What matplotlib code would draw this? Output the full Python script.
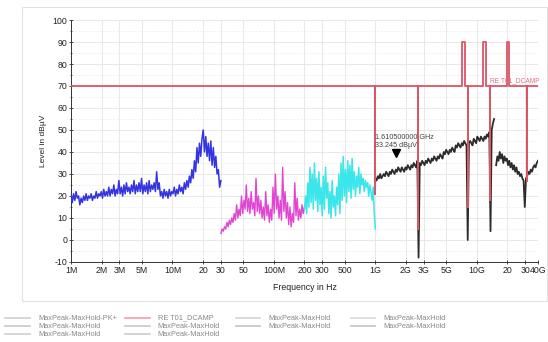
import matplotlib
matplotlib.use('Agg')
import matplotlib.pyplot as plt
import matplotlib.transforms as mtransforms
from matplotlib.lines import Line2D
from matplotlib.patches import Rectangle
import numpy as np

plt.rcParams['font.family'] = ['Liberation Sans', 'DejaVu Sans']
plt.rcParams['axes.unicode_minus'] = False

# ── Data ─────────────────────────────────────────────────────────────────────
# sweep 1: 1 MHz - 30 MHz (blue)
blue_f = np.geomspace(1e6, 30e6, 120)
blue_db = [20, 17, 21, 18, 22, 19, 20, 16, 19, 17, 20, 18, 21, 18, 20, 19, 21, 18, 20, 19, 22, 19, 21, 20,
           22, 19, 23, 20, 22, 20, 24, 20, 23, 21, 25, 20, 23, 21,
           27, 21, 24, 20, 25, 21, 26, 22, 24, 21, 25, 22, 27, 21, 25, 22, 26, 22,
           28, 21, 25, 22, 26, 21, 27, 22, 25, 23, 26, 22,
           31, 23, 26, 20, 22, 19, 23, 20, 22, 19, 23, 20, 22,
           21, 24, 20, 23, 21, 25, 22, 24, 21, 26, 23, 27, 24, 29, 26,
           32, 28, 36, 31, 42, 35, 44, 38, 46,
           50, 40, 47, 38, 44, 36, 45, 34, 42, 33, 38, 30, 32, 24, 27]

# sweep 2: 30 MHz - 200 MHz (magenta)
mag_f = np.geomspace(30e6, 200e6, 70)
mag_db = [3, 5, 4, 6, 5, 8, 6, 9, 7, 10, 8,
          12, 9, 16, 10, 14, 11, 20, 12, 18, 14,
          25, 13, 19, 12, 22, 14, 17, 11, 28, 13,
          20, 12, 18, 10, 15, 9, 22, 11, 16, 8,
          14, 9, 24, 12, 30, 14, 20, 10, 18, 9,
          33, 13, 22, 10, 17, 7, 15, 6, 12, 8,
          26, 11, 19, 9, 14, 10, 16, 12, 15]

# sweep 3: 200 MHz - 1 GHz (cyan)
cyan_f = np.geomspace(200e6, 1e9, 65)
cyan_db = [14, 20, 12, 26, 15, 33, 17, 30, 14, 35,
           18, 28, 13, 31, 16, 24, 11, 29, 14, 33,
           19, 26, 12, 22, 10, 27, 15, 20, 11, 24,
           16, 30, 12, 35, 18, 38, 20, 32, 17, 36,
           22, 34, 19, 37, 23, 31, 20, 29, 24, 33,
           21, 30, 25, 28, 22, 27, 24, 26, 20, 25,
           22, 18, 24, 12, 5]

# sweep 4: 1 GHz - 40 GHz (black), two parts
blk1_f = np.geomspace(1e9, 14.8e9, 100)
blk1_db = [28, 27, 29, 28, 30, 28, 29, 30, 29, 31,
           30, 29, 31, 30, 32, 31, 30, 32, 31, 33,
           32, 31, 33, 32, 31, 33, 32, 34, 33, 32,
           34, 33, 35, 34, 33, 36, -8, 35, 34, 36,
           35, 34, 36, 35, 37, 36, 35, 37, 36, 38,
           37, 36, 38, 37, 39, 38, 37, 40, 39, 41,
           40, 39, 41, 40, 42, 41, 40, 43, 42, 44,
           43, 42, 44, 43, 45, 44, 43, 0, 44, 45,
           44, 43, 46, 45, 44, 47, 46, 45, 47, 46,
           45, 47, 46, 48, 47, 49, 4, 50, 53, 55]
blk2_f = np.geomspace(15.5e9, 40e9, 36)
blk2_db = [34, 38, 36, 40, 37, 39, 35, 38, 36, 37, 34, 36, 33, 35, 32, 34, 31, 33,
           30, 31, 29, 30, 28, 27, 15, 28, 29, 31, 30, 32, 31, 33, 34, 33, 35, 36]

# limit line RE T01_DCAMP
lim_f = [1e6, 1e9, 1e9, 1e9, 2.65e9, 2.65e9, 2.65e9, 7.1e9, 7.1e9, 7.6e9, 7.6e9,
         8.1e9, 8.1e9, 8.1e9, 11.5e9, 11.5e9, 12.3e9, 12.3e9, 13.5e9, 13.5e9, 13.5e9,
         19.8e9, 19.8e9, 20.6e9, 20.6e9, 31e9, 31e9, 31e9, 40e9]
lim_db = [70, 70, 21, 70, 70, 5, 70, 70, 90, 90, 70,
          70, 15, 70, 70, 90, 90, 70, 70, 18, 70,
          70, 90, 90, 70, 70, 27, 70, 70]

marker_f = 1.6105e9
marker_db = 33.245

xticks = [1e6, 2e6, 3e6, 5e6, 1e7, 2e7, 3e7, 5e7, 1e8, 2e8, 3e8, 5e8,
          1e9, 2e9, 3e9, 5e9, 1e10, 2e10, 3e10, 4e10]
xticklabels = ['1M', '2M', '3M', '5M', '10M', '20', '30', '50', '100M', '200', '300', '500',
               '1G', '2G', '3G', '5G', '10G', '20', '30', '40G']

legend_labels = ['MaxPeak-MaxHold-PK+', 'MaxPeak-MaxHold', 'MaxPeak-MaxHold',
                 'RE T01_DCAMP', 'MaxPeak-MaxHold', 'MaxPeak-MaxHold',
                 'MaxPeak-MaxHold', 'MaxPeak-MaxHold',
                 'MaxPeak-MaxHold', 'MaxPeak-MaxHold']
legend_colors = ['#cfcfcf', '#c8c8c8', '#d0d0d0',
                 '#f0a0aa', '#c8c8c8', '#cccccc',
                 '#d4d4d4', '#c4c4c4',
                 '#dcdcdc', '#c4c4c4']

# ── Figure ───────────────────────────────────────────────────────────────────
fig = plt.figure(figsize=(5.48, 3.42), dpi=100)
fig.patches.append(Rectangle((0.040, 0.120), 0.958, 0.860, transform=fig.transFigure,
                             fill=False, edgecolor='#e2e2e2', linewidth=0.8))
ax = fig.add_axes([0.1296, 0.234, 0.852, 0.7075])

ax.plot(blue_f, blue_db, color='#3434e0', lw=1.1, zorder=3)
ax.plot(mag_f, mag_db, color='#e046d2', lw=1.0, zorder=3)
ax.plot(cyan_f, cyan_db, color='#3ae6ea', lw=1.1, zorder=3)
ax.plot(blk1_f, blk1_db, color='#2c2c2c', lw=1.3, zorder=3)
ax.plot(blk2_f, blk2_db, color='#2c2c2c', lw=1.3, zorder=3)
ax.plot(lim_f, lim_db, color='#dc5566', lw=1.3, zorder=4)

ax.text(13.4e9, 70.6, 'RE T01_DCAMP', color='#e07080', fontsize=4.8, ha='left', va='bottom', zorder=5)

mk_tr = mtransforms.offset_copy(ax.transData, fig=fig, x=0, y=14, units='dots')
ax.plot([marker_f], [marker_db], marker='v', color='black', ms=6, transform=mk_tr, zorder=6)
txt_tr = mtransforms.offset_copy(ax.transData, fig=fig, x=-21, y=18, units='dots')
ax.text(marker_f, marker_db, f'{marker_f / 1e9:.9f} GHz\n{marker_db:.3f} dBµV', transform=txt_tr,
        fontsize=5.2, color='#444444', ha='left', va='bottom', linespacing=1.1, zorder=6)

ax.set_xscale('log')
ax.set_xlim(1e6, 4e10)
ax.set_ylim(-10, 100)
ax.set_xticks(xticks)
ax.set_xticklabels(xticklabels)
ax.xaxis.set_minor_locator(matplotlib.ticker.NullLocator())
ax.set_yticks(np.arange(-10, 101, 10))
ax.set_yticks(np.arange(-5, 100, 10), minor=True)
ax.tick_params(axis='both', which='major', labelsize=6.3, length=2.5, width=0.6,
               direction='inout', colors='#333333', labelcolor='#222222', pad=1.5)
ax.tick_params(axis='y', which='minor', length=2, width=0.5, direction='inout', colors='#333333')

ax.grid(True, which='major', color='#e4e4e4', lw=0.6)
ax.grid(True, which='minor', axis='y', color='#ececec', lw=0.5, linestyle=(0, (3, 2)))
ax.set_axisbelow(True)
for s in ['top', 'right']:
    ax.spines[s].set_visible(False)
for s in ['left', 'bottom']:
    ax.spines[s].set_color('#333333')
    ax.spines[s].set_linewidth(0.7)

ax.set_xlabel('Frequency in Hz', fontsize=6.3, color='#222222', labelpad=6)
ax.set_ylabel('Level in dBµV', fontsize=6.0, color='#222222', labelpad=4)

# legend below the frame, laid out as the analyser prints it
col_x = [0.010, 0.228, 0.430, 0.640]
row_y = [0.070, 0.046, 0.022]
for k, (lab, col) in enumerate(zip(legend_labels, legend_colors)):
    if k < 6:
        c, r = k // 3, k % 3
    else:
        c, r = 2 + (k - 6) // 2, (k - 6) % 2
    x0 = col_x[c]
    y0 = row_y[r]
    fig.lines.append(Line2D([x0, x0 + 0.045], [y0, y0], transform=fig.transFigure,
                            color=col, lw=1.2))
    fig.text(x0 + 0.060, y0, lab, fontsize=5.3, color='#888888', va='center', ha='left')

fig.savefig('out.png', dpi=100)
